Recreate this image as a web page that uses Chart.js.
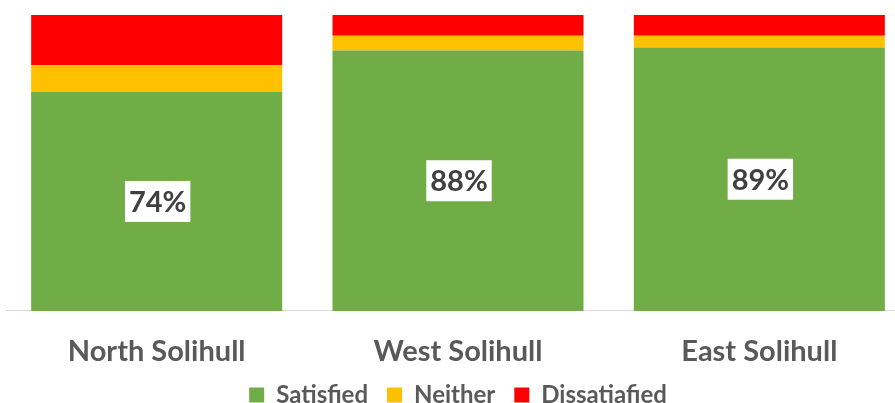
<html lang="en">
<head>
    <meta charset="UTF-8">
    <title>Satisfaction by Locality</title>
    <style>
        html, body {
            margin: 0;
            padding: 0;
            background: #fff;
            overflow: hidden;
        }
        .chart-container {
            width: 920px;
            height: 417px;
        }
    </style>
</head>
<body>
    <div class="chart-container">
        <canvas id="satisfactionChart"></canvas>
    </div>

    <script src="https://cdn.jsdelivr.net/npm/chart.js"></script>
    <script>
        // Survey results, percent of respondents
        const localities = ['North Solihull', 'West Solihull', 'East Solihull'];
        const satisfied = [74, 88, 89];
        const neither = [9, 5, 4];
        const dissatisfied = [17, 7, 7];

        const FONT = 'Lato, "DejaVu Sans", sans-serif';

        // Puts the satisfied share in a white box in the middle of the green segment
        const valueBoxes = {
            id: 'valueBoxes',
            afterDatasetsDraw(chart) {
                const ctx = chart.ctx;
                const meta = chart.getDatasetMeta(0);
                ctx.save();
                ctx.font = 'bold 29px ' + FONT;
                ctx.textAlign = 'center';
                ctx.textBaseline = 'middle';
                meta.data.forEach((bar, i) => {
                    const text = satisfied[i] + '%';
                    const cy = (bar.y + bar.base) / 2;
                    const w = ctx.measureText(text).width + 8;
                    const h = 41;
                    ctx.fillStyle = '#ffffff';
                    ctx.fillRect(bar.x - w / 2 + 1, cy - h / 2, w, h);
                    ctx.fillStyle = '#404040';
                    ctx.fillText(text, bar.x + 1, cy + 1);
                });
                ctx.restore();
            }
        };

        const ctx = document.getElementById('satisfactionChart').getContext('2d');
        new Chart(ctx, {
            type: 'bar',
            data: {
                labels: localities,
                datasets: [
                    { label: 'Satisfied', data: satisfied, backgroundColor: '#70AD47' },
                    { label: 'Neither', data: neither, backgroundColor: '#FFC000' },
                    { label: 'Dissatiafied', data: dissatisfied, backgroundColor: '#FF0000' }
                ]
            },
            options: {
                responsive: true,
                maintainAspectRatio: false,
                animation: false,
                datasets: {
                    bar: {
                        categoryPercentage: 1,
                        barPercentage: 0.833
                    }
                },
                layout: {
                    padding: { left: 6, right: 10, top: 15, bottom: 0 }
                },
                scales: {
                    x: {
                        stacked: true,
                        // grid hidden, but its tick length still spaces the labels off the axis
                        grid: { display: false, drawTicks: true, tickLength: 29 },
                        border: { display: true, color: '#d9d9d9', width: 1 },
                        ticks: {
                            padding: 0,
                            color: '#595959',
                            font: { family: FONT, size: 29, weight: 'bold', lineHeight: 0.83 }
                        }
                    },
                    y: {
                        stacked: true,
                        display: false,
                        min: 0,
                        max: 100
                    }
                },
                plugins: {
                    legend: {
                        position: 'bottom',
                        labels: {
                            boxWidth: 15,
                            boxHeight: 15,
                            padding: 19,
                            color: '#595959',
                            font: { family: FONT, size: 24, weight: 'bold' }
                        }
                    },
                    tooltip: { enabled: false }
                }
            },
            plugins: [valueBoxes]
        });
    </script>
</body>
</html>
